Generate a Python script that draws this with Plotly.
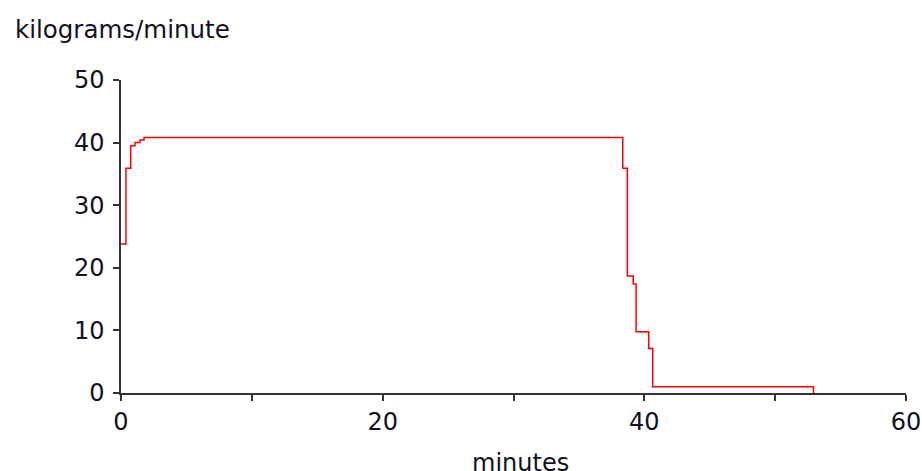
import plotly.graph_objects as go

# Step data: time (minutes) at which each rate starts, and the rate (kg/min)
minutes = [0.0, 0.38, 0.74, 1.07, 1.45, 1.76, 38.35, 38.7, 39.15, 39.37, 40.34, 40.64, 52.93]
rate = [23.8, 35.9, 39.5, 40.0, 40.4, 40.8, 35.9, 18.7, 17.4, 9.8, 7.1, 1.0, 0.0]

x_tickvals = [0, 10, 20, 30, 40, 50, 60]
x_ticktext = ["0", "", "20", "", "40", "", "60"]
y_tickvals = [0, 10, 20, 30, 40, 50]

FONT = "DejaVu Sans"
FS = 24
TXT = "#111122"
AX = "#333333"

L, T, PW, PH = 121, 80, 785, 313
W, H = 922, 471

fig = go.Figure()
fig.add_trace(go.Scatter(x=minutes, y=rate, mode="lines", line=dict(shape="hv", color="#ff0000", width=1.5),
                         hoverinfo="skip", showlegend=False))


def px(xp):
    return (xp - L) / PW


def py(yp):
    return (T + PH - yp) / PH


fig.update_layout(
    width=W, height=H,
    margin=dict(l=L, r=W - L - PW, t=T, b=H - T - PH),
    paper_bgcolor="white", plot_bgcolor="white",
    font=dict(family=FONT, size=FS, color=TXT),
    xaxis=dict(range=[0, 60], tickvals=x_tickvals, ticktext=x_ticktext, showgrid=False, zeroline=False,
               showline=True, linecolor=AX, linewidth=1.5, ticks="outside", ticklen=6, tickcolor=AX,
               tickwidth=1.5, automargin=False, tickfont=dict(family=FONT, size=FS, color=TXT)),
    yaxis=dict(range=[0, 50], tickvals=y_tickvals, showgrid=False, zeroline=False,
               showline=True, linecolor=AX, linewidth=1.5, ticks="outside", ticklen=6, tickcolor=AX,
               tickwidth=1.5, automargin=False, ticklabelstandoff=4,
               tickfont=dict(family=FONT, size=FS, color=TXT)),
    annotations=[
        dict(text="kilograms/minute", xref="paper", yref="paper", x=px(13), y=py(30),
             xanchor="left", yanchor="middle", showarrow=False, font=dict(family=FONT, size=24.5, color=TXT)),
        dict(text="minutes", xref="paper", yref="paper", x=px(520), y=py(463),
             xanchor="center", yanchor="middle", showarrow=False, font=dict(family=FONT, size=FS, color=TXT)),
    ],
)

fig.write_html("out.html", config={"displayModeBar": False},
               post_script="document.body.style.margin='0';document.body.style.overflow='hidden';")
